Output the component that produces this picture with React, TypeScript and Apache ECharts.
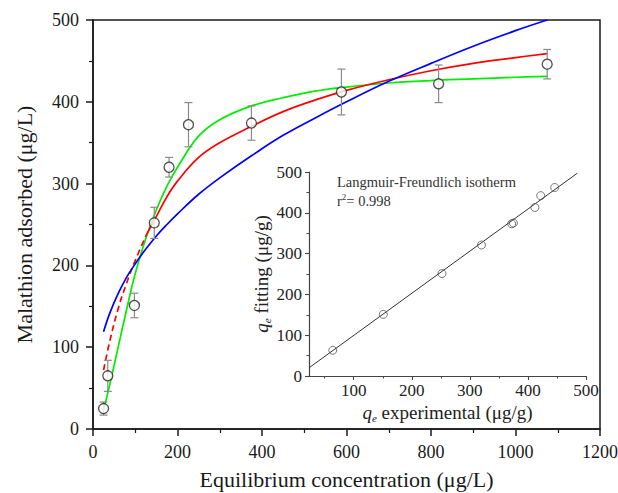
import React, { useEffect, useRef } from "react";
import * as echarts from "echarts";

// Main panel: measured points with error bars
const mainX = [25, 35, 98, 145, 180, 226, 375, 588, 818, 1075];
const mainY = [25, 65, 151, 252, 320, 372, 374, 412, 422, 446];
const mainErr = [8, 19, 15, 19, 12, 27, 21, 28, 23, 18];

// Fitted curves
const curveX = [25, 40, 60, 80, 100, 125, 150, 175, 200, 250, 300, 375, 450, 525, 600, 700, 800, 900, 1000, 1075];
const greenY = [23, 55, 101, 147, 190, 233, 268, 297, 320, 358, 378, 395, 405, 413, 418, 423, 426, 428, 430, 431];
const blueY = [119, 142, 166, 186, 202, 220, 236, 250, 263, 287, 307, 334, 359, 380, 400, 425, 447, 468, 487, 500];
const redDashX = [25, 40, 60, 80, 100, 125];
const redDashY = [72, 108, 148, 179, 206, 236];
const redX = [125, 150, 175, 200, 250, 300, 375, 450, 525, 600, 700, 800, 900, 1000, 1075];
const redY = [236, 260, 284, 303, 332, 350, 370, 388, 402, 414, 427, 438, 447, 454, 459];

// Inset: fitted vs experimental
const insetX = [64, 151, 252, 320, 372, 375, 412, 422, 446];
const insetY = [63, 151, 251, 321, 373, 375, 413, 442, 462];
const fitLineX = [23, 485];
const fitLineY = [20, 497];

const mainXTicks = [0, 1200, 200];
const mainYTicks = [0, 500, 100];
const insetXLabels = [100, 200, 300, 400, 500];
const insetXMinor = [50, 150, 250, 350, 450];

const FONT = "Liberation Serif";

export default function App() {
  const ref = useRef<HTMLDivElement>(null);
  useEffect(() => {
    if (!ref.current) return;
    const chart = echarts.init(ref.current, undefined, { renderer: "svg" });
    const zip = (xs: number[], ys: number[]) => xs.map((x, i) => [x, ys[i]]);
    const axisLineStyle = { color: "#1a1a1a", width: 1.5 };
    const insetAxisLine = { color: "#444", width: 1.2 };
    const plain = (v: number) => String(v);
    const qRich = {
      q: { fontStyle: "italic", fontFamily: FONT, fontSize: 19, color: "#222" },
      e: { fontStyle: "italic", fontFamily: FONT, fontSize: 11, color: "#222", verticalAlign: "bottom", padding: [9, 0, 0, 0] },
    };
    chart.setOption({
      animation: false,
      textStyle: { fontFamily: FONT },
      grid: [
        { left: 93, top: 20, right: 18, bottom: 64, show: true, borderColor: "#1a1a1a", borderWidth: 1.5, outerBoundsMode: "none" },
        { left: 309, top: 172, right: 32, bottom: 117, outerBoundsMode: "none" },
      ],
      xAxis: [
        {
          type: "value", gridIndex: 0, min: mainXTicks[0], max: mainXTicks[1], interval: mainXTicks[2],
          name: "Equilibrium concentration (μg/L)", nameLocation: "middle", nameGap: 39,
          nameTextStyle: { fontFamily: FONT, fontSize: 22, color: "#1a1a1a" },
          axisLine: { lineStyle: axisLineStyle, onZero: false },
          axisTick: { length: 7, lineStyle: { color: "#1a1a1a", width: 1.5 } },
          minorTick: { show: true, splitNumber: 2, length: 4, lineStyle: { color: "#1a1a1a", width: 1.2 } },
          axisLabel: { fontFamily: FONT, fontSize: 18, color: "#1a1a1a", margin: 14, formatter: plain },
          splitLine: { show: false },
        },
        {
          type: "value", gridIndex: 1, min: 23, max: 500, position: "bottom",
          name: "{q|q}{e|e} experimental (μg/g)", nameLocation: "middle", nameGap: 25,
          nameTextStyle: { fontFamily: FONT, fontSize: 19, color: "#222", lineHeight: 22, rich: qRich },
          axisLine: { lineStyle: insetAxisLine, onZero: false },
          axisTick: { length: 4, customValues: insetXLabels, lineStyle: { color: "#444", width: 1.1 } },
          axisLabel: { fontFamily: FONT, fontSize: 17, color: "#222", margin: 6, customValues: insetXLabels, formatter: plain },
          splitLine: { show: false },
        },
        {
          type: "value", gridIndex: 1, min: 23, max: 500, position: "bottom",
          axisLine: { show: false, onZero: false },
          axisTick: { length: 2.5, customValues: insetXMinor, lineStyle: { color: "#444", width: 1 } },
          axisLabel: { show: false },
          splitLine: { show: false },
        },
      ],
      yAxis: [
        {
          type: "value", gridIndex: 0, min: mainYTicks[0], max: mainYTicks[1], interval: mainYTicks[2],
          name: "Malathion adsorbed (μg/L)", nameLocation: "middle", nameGap: 58,
          nameTextStyle: { fontFamily: FONT, fontSize: 22, color: "#1a1a1a" },
          axisLine: { lineStyle: axisLineStyle, onZero: false },
          axisTick: { length: 7, lineStyle: { color: "#1a1a1a", width: 1.5 } },
          minorTick: { show: true, splitNumber: 2, length: 4, lineStyle: { color: "#1a1a1a", width: 1.2 } },
          axisLabel: { fontFamily: FONT, fontSize: 18, color: "#1a1a1a", margin: 14, formatter: plain },
          splitLine: { show: false },
        },
        {
          type: "value", gridIndex: 1, min: 0, max: 500, interval: 100,
          name: "{q|q}{e|e} fitting (μg/g)", nameLocation: "middle", nameGap: 36,
          nameTextStyle: { fontFamily: FONT, fontSize: 19, color: "#222", lineHeight: 22, rich: qRich },
          axisLine: { lineStyle: insetAxisLine, onZero: false },
          axisTick: { length: 4, lineStyle: { color: "#444", width: 1.1 } },
          minorTick: { show: true, splitNumber: 2, length: 2.5, lineStyle: { color: "#444", width: 1 } },
          axisLabel: { fontFamily: FONT, fontSize: 17, color: "#222", margin: 7, formatter: plain },
          splitLine: { show: false },
        },
      ],
      graphic: [
        {
          type: "text", left: 337, top: 174, z: 10,
          style: { text: "Langmuir-Freundlich isotherm", fontFamily: FONT, fontSize: 14.5, fill: "#333" },
        },
        {
          type: "text", left: 337, top: 192, z: 10,
          style: {
            text: "{a|r}{s|2}{a|= 0.998}",
            rich: {
              a: { fontFamily: FONT, fontSize: 14.5, fill: "#333", lineHeight: 17 },
              s: { fontFamily: FONT, fontSize: 9, fill: "#333", verticalAlign: "top" },
            },
          },
        },
      ],
      series: [
        {
          type: "line", xAxisIndex: 0, yAxisIndex: 0, data: zip(curveX, greenY), symbol: "none",
          smooth: 0.4, lineStyle: { color: "#00ee00", width: 1.7 }, z: 2,
        },
        {
          type: "line", xAxisIndex: 0, yAxisIndex: 0, data: zip(redX, redY), symbol: "none",
          smooth: 0.4, lineStyle: { color: "#ff0000", width: 1.7 }, z: 2,
        },
        {
          type: "line", xAxisIndex: 0, yAxisIndex: 0, data: zip(redDashX, redDashY), symbol: "none",
          smooth: 0.4, lineStyle: { color: "#ff0000", width: 1.7, type: [6, 4] }, z: 2,
        },
        {
          type: "line", xAxisIndex: 0, yAxisIndex: 0, data: zip(curveX, blueY), symbol: "none",
          smooth: 0.4, lineStyle: { color: "#0000ff", width: 1.7 }, z: 2,
        },
        {
          type: "custom", xAxisIndex: 0, yAxisIndex: 0, z: 3,
          data: mainX.map((x, i) => [x, mainY[i], mainErr[i]]),
          encode: { x: 0, y: 1 },
          renderItem: (params: any, api: any) => {
            const x = api.value(0), y = api.value(1), e = api.value(2);
            const hi = api.coord([x, y + e]);
            const lo = api.coord([x, y - e]);
            const w = 4;
            const style = { stroke: "#8a8a8a", lineWidth: 1.2 };
            return {
              type: "group",
              children: [
                { type: "line", shape: { x1: hi[0], y1: hi[1], x2: lo[0], y2: lo[1] }, style },
                { type: "line", shape: { x1: hi[0] - w, y1: hi[1], x2: hi[0] + w, y2: hi[1] }, style },
                { type: "line", shape: { x1: lo[0] - w, y1: lo[1], x2: lo[0] + w, y2: lo[1] }, style },
              ],
            };
          },
        },
        {
          type: "scatter", xAxisIndex: 0, yAxisIndex: 0, z: 4, data: zip(mainX, mainY),
          symbol: "circle", symbolSize: 10,
          itemStyle: { color: "#ffffff", borderColor: "#222", borderWidth: 1.3 },
        },
        {
          type: "line", xAxisIndex: 1, yAxisIndex: 1, data: zip(fitLineX, fitLineY), symbol: "none",
          lineStyle: { color: "#333", width: 1 }, z: 2,
        },
        {
          type: "scatter", xAxisIndex: 1, yAxisIndex: 1, z: 4, data: zip(insetX, insetY),
          symbol: "circle", symbolSize: 8,
          itemStyle: { color: "rgba(255,255,255,0)", borderColor: "#555", borderWidth: 1 },
        },
      ],
    });
    return () => chart.dispose();
  }, []);
  return (
    <div
      ref={ref}
      style={{ position: "absolute", left: 0, top: 0, width: 618, height: 493, background: "#fff" }}
    />
  );
}
